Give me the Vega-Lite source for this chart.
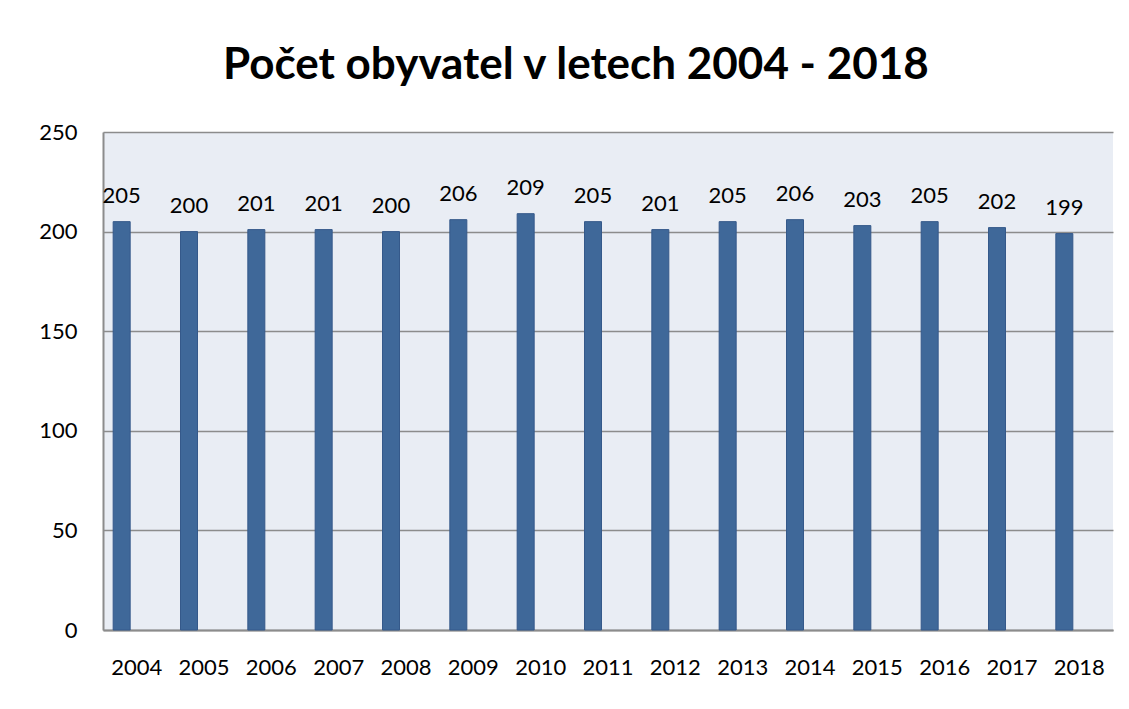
{
  "$schema": "https://vega.github.io/schema/vega-lite/v6.json",
  "autosize": {"type": "none"},
  "width": 1010,
  "height": 498,
  "padding": {"left": 103, "top": 132, "right": 16, "bottom": 79},
  "background": "white",
  "config": {
    "font": "Lato",
    "view": {"stroke": null, "fill": "#E9EDF4"}
  },
  "title": {
    "text": "Počet obyvatel v letech 2004 - 2018",
    "font": "Lato",
    "fontSize": 44,
    "fontWeight": "bold",
    "color": "#000000",
    "anchor": "middle",
    "frame": "bounds",
    "offset": 33
  },
  "data": {
    "values": [
      {"rok": "2004", "obyvatel": 205},
      {"rok": "2005", "obyvatel": 200},
      {"rok": "2006", "obyvatel": 201},
      {"rok": "2007", "obyvatel": 201},
      {"rok": "2008", "obyvatel": 200},
      {"rok": "2009", "obyvatel": 206},
      {"rok": "2010", "obyvatel": 209},
      {"rok": "2011", "obyvatel": 205},
      {"rok": "2012", "obyvatel": 201},
      {"rok": "2013", "obyvatel": 205},
      {"rok": "2014", "obyvatel": 206},
      {"rok": "2015", "obyvatel": 203},
      {"rok": "2016", "obyvatel": 205},
      {"rok": "2017", "obyvatel": 202},
      {"rok": "2018", "obyvatel": 199}
    ]
  },
  "encoding": {
    "x": {
      "field": "rok",
      "type": "ordinal",
      "scale": {"paddingInner": 0, "paddingOuter": 0},
      "axis": {
        "title": null,
        "labelAngle": 0,
        "labelFont": "Lato",
        "labelFontSize": 22,
        "labelColor": "#000000",
        "labelPadding": 27,
        "ticks": false,
        "domainColor": "#8C8C8C",
        "domainWidth": 2,
        "grid": false
      }
    },
    "y": {
      "field": "obyvatel",
      "type": "quantitative",
      "scale": {"domain": [0, 250], "nice": false},
      "axis": {
        "title": null,
        "values": [0, 50, 100, 150, 200, 250],
        "labelFont": "Lato",
        "labelFontSize": 22,
        "labelColor": "#000000",
        "labelPadding": 26,
        "ticks": false,
        "domainColor": "#8C8C8C",
        "domainWidth": 2,
        "grid": true,
        "gridColor": "#8C8C8C",
        "gridWidth": 1.5
      }
    }
  },
  "layer": [
    {
      "mark": {
        "type": "bar",
        "width": 17,
        "xOffset": -15,
        "color": "#3F6899",
        "stroke": "#35598A",
        "strokeWidth": 1
      }
    },
    {
      "mark": {
        "type": "text",
        "font": "Lato",
        "fontSize": 22,
        "color": "#000000",
        "baseline": "alphabetic",
        "dx": -15,
        "dy": -19
      },
      "encoding": {"text": {"field": "obyvatel", "type": "quantitative"}}
    }
  ]
}
